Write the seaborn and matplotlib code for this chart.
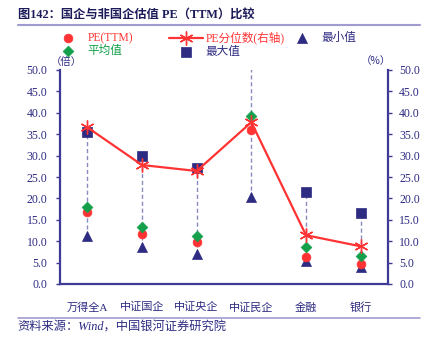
import numpy as np
import pandas as pd
import matplotlib
matplotlib.use('Agg')
import matplotlib.pyplot as plt
from matplotlib.lines import Line2D
import seaborn as sns

# ---------------- data ----------------
categories = ['万得全A', '中证国企', '中证央企', '中证民企', '金融', '银行']
pe_ttm = [16.9, 11.6, 9.7, 36.0, 6.4, 4.7]
pe_pct = [36.6, 27.8, 26.4, 37.8, 11.4, 8.8]
pe_min = [11.3, 8.7, 7.0, 20.3, 5.3, 4.0]
pe_mean = [18.1, 13.4, 11.3, 39.3, 8.7, 6.5]
pe_max = [35.4, 29.9, 27.1, 60.0, 21.4, 16.7]
y_ticks = [0.0, 5.0, 10.0, 15.0, 20.0, 25.0, 30.0, 35.0, 40.0, 45.0, 50.0]

title = '图142：国企与非国企估值 PE（TTM）比较'
source = '资料来源：Wind，中国银河证券研究院'
legend_labels = ['PE(TTM)', '平均值', 'PE分位数(右轴)', '最大值', '最小值']
unit_left = '（倍）'
unit_right = '（%）'

# ---------------- style ----------------
sns.set_theme(style='white')
FAM = ['Liberation Serif', 'Noto Sans CJK SC', 'DejaVu Sans']
CJK = ['Noto Sans CJK SC', 'DejaVu Sans']
plt.rcParams['font.family'] = FAM

NAVY = '#2E2B82'
SPINE = '#3F3A96'
RED = '#FF3333'
GREEN = '#14A04A'
DASH = '#8A8AC0'
LAV = '#A09CD0'

df = pd.DataFrame({
    'pos': np.arange(len(categories)),
    'cat': categories,
    'pe': pe_ttm,
    'pct': pe_pct,
    'mn': pe_min,
    'mean': pe_mean,
    'mx': pe_max,
})

W, H = 430, 342
fig = plt.figure(figsize=(W / 100, H / 100), dpi=100)
ax = fig.add_axes([60 / W, 1 - 284 / H, 328 / W, 214 / H])
ax2 = ax.twinx()

# high-low dashed lines
ax.vlines(df['pos'], df['mn'], df['mx'], colors=DASH, linestyles=(0, (3, 2)),
          linewidth=1.0, zorder=1)

sns.scatterplot(data=df, x='pos', y='mn', marker='^', s=52, color=NAVY,
                edgecolor=NAVY, linewidth=0.5, ax=ax, label=legend_labels[4], zorder=3)
sns.scatterplot(data=df, x='pos', y='pe', marker='o', s=40, color=RED,
                edgecolor=RED, linewidth=0.5, ax=ax, label=legend_labels[0], zorder=4)
sns.scatterplot(data=df, x='pos', y='mean', marker='D', s=30, color=GREEN,
                edgecolor=GREEN, linewidth=0.5, ax=ax, label=legend_labels[1], zorder=5)
sns.scatterplot(data=df, x='pos', y='mx', marker='s', s=42, color=NAVY,
                edgecolor=NAVY, linewidth=0.5, ax=ax, label=legend_labels[3], zorder=5)

sns.lineplot(data=df, x='pos', y='pct', ax=ax2, color=RED, linewidth=1.6,
             marker=(6, 2, 0), markersize=10, markeredgecolor=RED,
             markeredgewidth=1.0, label=legend_labels[2])

for a in (ax, ax2):
    if a.get_legend() is not None:
        a.get_legend().remove()
    a.set_xlabel('')
    a.set_ylabel('')
    a.set_ylim(0, 50)
    a.set_xlim(-0.5, len(categories) - 0.5)
    a.set_yticks(y_ticks)
    a.grid(False)
    for s in a.spines.values():
        s.set_visible(False)

ax.set_yticklabels([f'{v:.1f}' for v in y_ticks])
ax2.set_yticklabels([f'{v:.1f}' for v in y_ticks])
ax.set_xticks(df['pos'])
ax.set_xticklabels(categories)

ax.spines['left'].set_visible(True)
ax.spines['bottom'].set_visible(True)
ax2.spines['right'].set_visible(True)
for s in (ax.spines['left'], ax.spines['bottom'], ax2.spines['right']):
    s.set_color(SPINE)
    s.set_linewidth(1.6)

ax.tick_params(axis='y', which='both', left=True, length=3, width=1, color=SPINE,
               direction='out', pad=6, labelsize=8.5, labelcolor=NAVY)
ax2.tick_params(axis='y', which='both', right=True, length=3, width=1, color=SPINE,
                direction='out', pad=5, labelsize=8.5, labelcolor=NAVY)
ax.tick_params(axis='x', bottom=False, pad=7, labelsize=8, labelcolor=NAVY)
for lab in ax.get_xticklabels():
    lab.set_fontfamily(FAM)
ax.patch.set_alpha(0)

# ---------------- legends ----------------
h1, l1 = ax.get_legend_handles_labels()
h2, l2 = ax2.get_legend_handles_labels()
hmap = dict(zip(l1 + l2, h1 + h2))
label_colors = {legend_labels[0]: RED, legend_labels[1]: GREEN,
                legend_labels[2]: RED, legend_labels[3]: NAVY, legend_labels[4]: NAVY}

groups = [([legend_labels[0], legend_labels[1]], 51),
          ([legend_labels[2], legend_labels[3]], 169),
          ([legend_labels[4]], 285)]
for labs, xpx in groups:
    leg = fig.legend([hmap[l] for l in labs], labs, loc='upper left',
                     bbox_to_anchor=(xpx / W, 1 - 32 / H), frameon=False,
                     borderpad=0, borderaxespad=0, handlelength=2.9,
                     handletextpad=0.25, labelspacing=0.1, scatterpoints=1,
                     prop={'family': FAM, 'size': 8.4})
    for t in leg.get_texts():
        t.set_color(label_colors[t.get_text()])

# ---------------- text ----------------
fig.text(18 / W, 1 - 16 / H, title, fontsize=8.8, fontweight='bold', color='#1C1B5A',
         ha='left', va='center', family=FAM)
fig.add_artist(Line2D([18 / W, 420 / W], [1 - 25 / H, 1 - 25 / H], color=LAV, lw=1.5))
fig.text(66 / W, 1 - 62 / H, unit_left, fontsize=7.5, color=NAVY, ha='center',
         va='center', family=CJK)
fig.text(376 / W, 1 - 61 / H, unit_right, fontsize=7.5, color=NAVY, ha='center',
         va='center', family=CJK)
fig.add_artist(Line2D([18 / W, 420 / W], [1 - 318 / H, 1 - 318 / H], color=LAV, lw=1.2))
fig.text(17 / W, 1 - 328 / H, source, fontsize=8.8, color=NAVY, ha='left',
         va='center', family=FAM, style='italic')

fig.savefig('out.png', dpi=100)
